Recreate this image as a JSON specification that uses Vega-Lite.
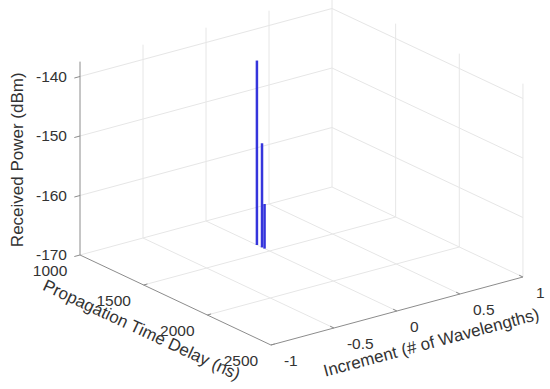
{
  "$schema": "https://vega.github.io/schema/vega-lite/v6.json",
  "width": 550,
  "height": 389,
  "autosize": {"type": "none"},
  "padding": 0,
  "background": "white",
  "config": {"view": {"stroke": null}},
  "data": {
    "values": [
      {"part": "grid", "delay": 1000, "inc": -1, "power": -170, "delay2": 1000, "inc2": 1, "power2": -170},
      {"part": "grid", "delay": 1000, "inc": -1, "power": -160, "delay2": 1000, "inc2": 1, "power2": -160},
      {"part": "grid", "delay": 1000, "inc": -1, "power": -150, "delay2": 1000, "inc2": 1, "power2": -150},
      {"part": "grid", "delay": 1000, "inc": -1, "power": -140, "delay2": 1000, "inc2": 1, "power2": -140},
      {"part": "grid", "delay": 1000, "inc": -0.5, "power": -170, "delay2": 1000, "inc2": -0.5, "power2": -137.5},
      {"part": "grid", "delay": 1000, "inc": 0, "power": -170, "delay2": 1000, "inc2": 0, "power2": -137.5},
      {"part": "grid", "delay": 1000, "inc": 0.5, "power": -170, "delay2": 1000, "inc2": 0.5, "power2": -137.5},
      {"part": "grid", "delay": 1000, "inc": 1, "power": -170, "delay2": 1000, "inc2": 1, "power2": -137.5},
      {"part": "grid", "delay": 1000, "inc": 1, "power": -170, "delay2": 2500, "inc2": 1, "power2": -170},
      {"part": "grid", "delay": 1000, "inc": 1, "power": -160, "delay2": 2500, "inc2": 1, "power2": -160},
      {"part": "grid", "delay": 1000, "inc": 1, "power": -150, "delay2": 2500, "inc2": 1, "power2": -150},
      {"part": "grid", "delay": 1000, "inc": 1, "power": -140, "delay2": 2500, "inc2": 1, "power2": -140},
      {"part": "grid", "delay": 1500, "inc": 1, "power": -170, "delay2": 1500, "inc2": 1, "power2": -137.5},
      {"part": "grid", "delay": 2000, "inc": 1, "power": -170, "delay2": 2000, "inc2": 1, "power2": -137.5},
      {"part": "grid", "delay": 2500, "inc": 1, "power": -170, "delay2": 2500, "inc2": 1, "power2": -137.5},
      {"part": "grid", "delay": 1500, "inc": -1, "power": -170, "delay2": 1500, "inc2": 1, "power2": -170},
      {"part": "grid", "delay": 2000, "inc": -1, "power": -170, "delay2": 2000, "inc2": 1, "power2": -170},
      {"part": "grid", "delay": 1000, "inc": -0.5, "power": -170, "delay2": 2500, "inc2": -0.5, "power2": -170},
      {"part": "grid", "delay": 1000, "inc": 0, "power": -170, "delay2": 2500, "inc2": 0, "power2": -170},
      {"part": "grid", "delay": 1000, "inc": 0.5, "power": -170, "delay2": 2500, "inc2": 0.5, "power2": -170},
      {"part": "axis", "delay": 1000, "inc": -1, "power": -170, "delay2": 1000, "inc2": -1, "power2": -137.5},
      {"part": "axis", "delay": 1000, "inc": -1, "power": -170, "delay2": 2500, "inc2": -1, "power2": -170},
      {"part": "axis", "delay": 2500, "inc": -1, "power": -170, "delay2": 2500, "inc2": 1, "power2": -170},
      {"part": "axis", "delay": 1000, "inc": -1, "power": -170, "delay2": 1000, "inc2": -1.045, "power2": -170},
      {"part": "axis", "delay": 1000, "inc": -1, "power": -160, "delay2": 1000, "inc2": -1.045, "power2": -160},
      {"part": "axis", "delay": 1000, "inc": -1, "power": -150, "delay2": 1000, "inc2": -1.045, "power2": -150},
      {"part": "axis", "delay": 1000, "inc": -1, "power": -140, "delay2": 1000, "inc2": -1.045, "power2": -140},
      {"part": "axis", "delay": 1500, "inc": -1, "power": -170, "delay2": 1500, "inc2": -0.97, "power2": -170},
      {"part": "axis", "delay": 2000, "inc": -1, "power": -170, "delay2": 2000, "inc2": -0.97, "power2": -170},
      {"part": "axis", "delay": 2500, "inc": -1, "power": -170, "delay2": 2500, "inc2": -0.97, "power2": -170},
      {"part": "axis", "delay": 2500, "inc": -0.5, "power": -170, "delay2": 2470, "inc2": -0.5, "power2": -170},
      {"part": "axis", "delay": 2500, "inc": 0, "power": -170, "delay2": 2470, "inc2": 0, "power2": -170},
      {"part": "axis", "delay": 2500, "inc": 0.5, "power": -170, "delay2": 2470, "inc2": 0.5, "power2": -170},
      {"part": "axis", "delay": 2500, "inc": 1, "power": -170, "delay2": 2470, "inc2": 1, "power2": -170},
      {"part": "stem", "delay": 1400, "inc": 0, "power": -139},
      {"part": "stem", "delay": 1440, "inc": 0, "power": -152.5},
      {"part": "stem", "delay": 1460, "inc": 0, "power": -162.5},
      {"part": "zlab", "delay": 1000, "inc": -1, "power": -170, "label": "-170"},
      {"part": "zlab", "delay": 1000, "inc": -1, "power": -160, "label": "-160"},
      {"part": "zlab", "delay": 1000, "inc": -1, "power": -150, "label": "-150"},
      {"part": "zlab", "delay": 1000, "inc": -1, "power": -140, "label": "-140"},
      {"part": "tlab", "delay": 1000, "inc": -1, "power": -170, "label": "1000"},
      {"part": "tlab", "delay": 1500, "inc": -1, "power": -170, "label": "1500"},
      {"part": "tlab", "delay": 2000, "inc": -1, "power": -170, "label": "2000"},
      {"part": "tlab", "delay": 2500, "inc": -1, "power": -170, "label": "2500"},
      {"part": "ilab", "delay": 2500, "inc": -1, "power": -170, "label": "-1"},
      {"part": "ilab", "delay": 2500, "inc": -0.5, "power": -170, "label": "-0.5"},
      {"part": "ilab", "delay": 2500, "inc": 0, "power": -170, "label": "0"},
      {"part": "ilab", "delay": 2500, "inc": 0.5, "power": -170, "label": "0.5"},
      {"part": "ilab", "delay": 2500, "inc": 1, "power": -170, "label": "1"},
      {"part": "ztitle", "delay": 1000, "inc": -1, "power": -155, "label": "Received Power (dBm)"},
      {"part": "ttitle", "delay": 1750, "inc": -1, "power": -170, "label": "Propagation Time Delay (ns)"},
      {"part": "ititle", "delay": 2500, "inc": 0, "power": -170, "label": "Increment (# of Wavelengths)"}
    ]
  },
  "transform": [
    {"calculate": "(datum.delay - 1000) * 0.1273 + (datum.inc + 1) * 126", "as": "px"},
    {"calculate": "(datum.power + 170) * 5.95 + (datum.inc + 1) * 34 - (datum.delay - 1000) * 0.06", "as": "py"},
    {"calculate": "(datum.delay2 - 1000) * 0.1273 + (datum.inc2 + 1) * 126", "as": "px2"},
    {"calculate": "(datum.power2 + 170) * 5.95 + (datum.inc2 + 1) * 34 - (datum.delay2 - 1000) * 0.06", "as": "py2"},
    {"calculate": "(datum.inc + 1) * 34 - (datum.delay - 1000) * 0.06", "as": "pyb"}
  ],
  "encoding": {
    "x": {"field": "px", "type": "quantitative", "scale": {"domain": [-80, 470], "nice": false, "zero": false}, "axis": null},
    "y": {"field": "py", "type": "quantitative", "scale": {"domain": [-134, 255], "nice": false, "zero": false}, "axis": null}
  },
  "layer": [
    {
      "transform": [{"filter": "datum.part === 'grid'"}],
      "mark": {"type": "rule", "color": "#e6e6e6", "strokeWidth": 1},
      "encoding": {"x2": {"field": "px2"}, "y2": {"field": "py2"}}
    },
    {
      "transform": [{"filter": "datum.part === 'axis'"}],
      "mark": {"type": "rule", "color": "#8c8c8c", "strokeWidth": 1},
      "encoding": {"x2": {"field": "px2"}, "y2": {"field": "py2"}}
    },
    {
      "transform": [{"filter": "datum.part === 'stem'"}],
      "mark": {"type": "rule", "color": "#3535dc", "strokeWidth": 2.5},
      "encoding": {"y2": {"field": "pyb"}}
    },
    {
      "transform": [{"filter": "datum.part === 'zlab'"}],
      "mark": {"type": "text", "align": "right", "baseline": "middle", "dx": -13, "font": "Liberation Sans", "fontSize": 15.5, "color": "#333333"},
      "encoding": {"text": {"field": "label"}}
    },
    {
      "transform": [{"filter": "datum.part === 'tlab'"}],
      "mark": {"type": "text", "align": "center", "baseline": "middle", "dx": -30, "dy": 15.5, "font": "Liberation Sans", "fontSize": 15.5, "color": "#333333"},
      "encoding": {"text": {"field": "label"}}
    },
    {
      "transform": [{"filter": "datum.part === 'ilab'"}],
      "mark": {"type": "text", "align": "left", "baseline": "middle", "dx": 13, "dy": 15.5, "font": "Liberation Sans", "fontSize": 15.5, "color": "#333333"},
      "encoding": {"text": {"field": "label"}}
    },
    {
      "transform": [{"filter": "datum.part === 'ztitle'"}],
      "mark": {"type": "text", "align": "center", "baseline": "middle", "angle": 270, "dx": 6, "dy": -62, "font": "Liberation Sans", "fontSize": 17, "color": "#333333"},
      "encoding": {"text": {"field": "label"}}
    },
    {
      "transform": [{"filter": "datum.part === 'ttitle'"}],
      "mark": {"type": "text", "align": "center", "baseline": "middle", "angle": 25, "dx": -18, "dy": 42, "font": "Liberation Sans", "fontSize": 17, "color": "#333333"},
      "encoding": {"text": {"field": "label"}}
    },
    {
      "transform": [{"filter": "datum.part === 'ititle'"}],
      "mark": {"type": "text", "align": "center", "baseline": "middle", "angle": 345, "dx": 25, "dy": 40, "font": "Liberation Sans", "fontSize": 17, "color": "#333333"},
      "encoding": {"text": {"field": "label"}}
    }
  ]
}
